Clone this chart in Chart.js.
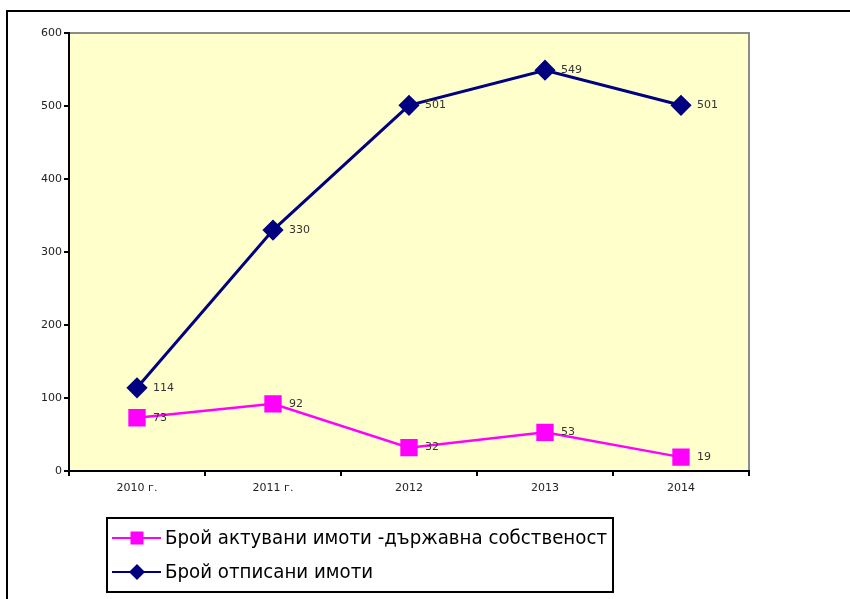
<!DOCTYPE html>
<html>
<head>
<meta charset="utf-8">
<script src="https://cdn.jsdelivr.net/npm/chart.js@4.4.1/dist/chart.umd.min.js"></script>
<style>
  html, body { margin: 0; padding: 0; background: #fff; }
  #wrap { width: 850px; height: 599px; position: relative; }
</style>
</head>
<body>
<div id="wrap"><canvas id="chart" width="850" height="599"></canvas></div>
<script>
var years = ['2010 г.', '2011 г.', '2012', '2013', '2014'];
var activated = [73, 92, 32, 53, 19];
var writtenOff = [114, 330, 501, 549, 501];
var yTicks = [0, 100, 200, 300, 400, 500, 600];
var seriesNames = ['Брой актувани имоти -държавна собственост', 'Брой отписани имоти'];

var FONT = '"DejaVu Sans", Verdana, sans-serif';

// frame, plot background and the grey top/right border
var framePlugin = {
  id: 'frame',
  beforeDraw: function (chart) {
    var ctx = chart.ctx, a = chart.chartArea;
    ctx.save();
    ctx.fillStyle = '#fff';
    ctx.fillRect(0, 0, chart.width, chart.height);
    ctx.strokeStyle = '#000';
    ctx.lineWidth = 2;
    ctx.strokeRect(7, 11, chart.width + 20, chart.height + 20);
    ctx.fillStyle = '#FFFFCC';
    ctx.fillRect(a.left, a.top, a.right - a.left, a.bottom - a.top);
    ctx.strokeStyle = '#8c8c8c';
    ctx.lineWidth = 2;
    ctx.beginPath();
    ctx.moveTo(a.left, a.top);
    ctx.lineTo(a.right, a.top);
    ctx.lineTo(a.right, a.bottom);
    ctx.stroke();
    ctx.restore();
  }
};

// value labels to the right of each point
var labelPlugin = {
  id: 'valueLabels',
  afterDatasetsDraw: function (chart) {
    var ctx = chart.ctx;
    ctx.save();
    ctx.font = '11px ' + FONT;
    ctx.fillStyle = '#333';
    ctx.textAlign = 'left';
    ctx.textBaseline = 'middle';
    chart.data.datasets.forEach(function (ds, i) {
      chart.getDatasetMeta(i).data.forEach(function (pt, j) {
        ctx.fillText(String(ds.data[j]), pt.x + 16, pt.y);
      });
    });
    ctx.restore();
  }
};

// boxed legend under the chart
var legendPlugin = {
  id: 'boxLegend',
  afterDraw: function (chart) {
    var ctx = chart.ctx;
    var box = { x: 107, y: 518, w: 506, h: 74 };
    ctx.save();
    ctx.fillStyle = '#fff';
    ctx.fillRect(box.x, box.y, box.w, box.h);
    ctx.strokeStyle = '#000';
    ctx.lineWidth = 2;
    ctx.strokeRect(box.x, box.y, box.w, box.h);
    ctx.font = '20px ' + FONT;
    ctx.textBaseline = 'middle';
    ctx.textAlign = 'left';
    // squeeze the text a bit, the original font is narrower
    var sx = Math.min(1, 442 / ctx.measureText(seriesNames[0]).width);
    chart.data.datasets.forEach(function (ds, i) {
      var cy = 538 + i * 34;
      ctx.strokeStyle = ds.borderColor;
      ctx.lineWidth = 2;
      ctx.beginPath();
      ctx.moveTo(112, cy);
      ctx.lineTo(161, cy);
      ctx.stroke();
      ctx.fillStyle = ds.backgroundColor;
      ctx.beginPath();
      if (ds.pointStyle === 'rect') {
        ctx.rect(137 - 6.5, cy - 6.5, 13, 13);
      } else {
        ctx.moveTo(137, cy - 8);
        ctx.lineTo(145, cy);
        ctx.lineTo(137, cy + 8);
        ctx.lineTo(129, cy);
        ctx.closePath();
      }
      ctx.fill();
      ctx.fillStyle = '#000';
      ctx.save();
      ctx.translate(165, cy + 1);
      ctx.scale(sx, 1);
      ctx.fillText(seriesNames[i], 0, 0);
      ctx.restore();
    });
    ctx.restore();
  }
};

new Chart(document.getElementById('chart'), {
  type: 'line',
  data: {
    labels: years,
    datasets: [{
      label: seriesNames[0],
      data: activated,
      borderColor: '#FF00FF',
      backgroundColor: '#FF00FF',
      borderWidth: 2.5,
      pointStyle: 'rect',
      pointRadius: 10.5,
      pointHoverRadius: 10.5,
      tension: 0
    }, {
      label: seriesNames[1],
      data: writtenOff,
      borderColor: '#000080',
      backgroundColor: '#000080',
      borderWidth: 3,
      pointStyle: 'rectRot',
      pointRadius: 8.5,
      pointHoverRadius: 8.5,
      tension: 0
    }]
  },
  options: {
    responsive: false,
    animation: false,
    layout: { padding: { left: 0, top: 33, right: 101, bottom: 0 } },
    plugins: {
      legend: { display: false },
      tooltip: { enabled: false }
    },
    scales: {
      x: {
        offset: true,
        grid: {
          offset: true,
          drawOnChartArea: false,
          drawTicks: true,
          tickLength: 5,
          color: '#000',
          lineWidth: 2
        },
        border: { color: '#000', width: 2 },
        ticks: { color: '#222', font: { family: FONT, size: 11 }, padding: 6, maxRotation: 0 },
        afterFit: function (s) { s.height = 599 - 471; }
      },
      y: {
        min: 0,
        max: 600,
        afterBuildTicks: function (s) { s.ticks = yTicks.map(function (v) { return { value: v }; }); },
        grid: {
          drawOnChartArea: false,
          drawTicks: true,
          tickLength: 5,
          color: '#000',
          lineWidth: 2
        },
        border: { color: '#000', width: 2 },
        ticks: { color: '#222', font: { family: FONT, size: 11 }, padding: 2 },
        afterFit: function (s) { s.width = 69; }
      }
    }
  },
  plugins: [framePlugin, labelPlugin, legendPlugin]
});
</script>
</body>
</html>
